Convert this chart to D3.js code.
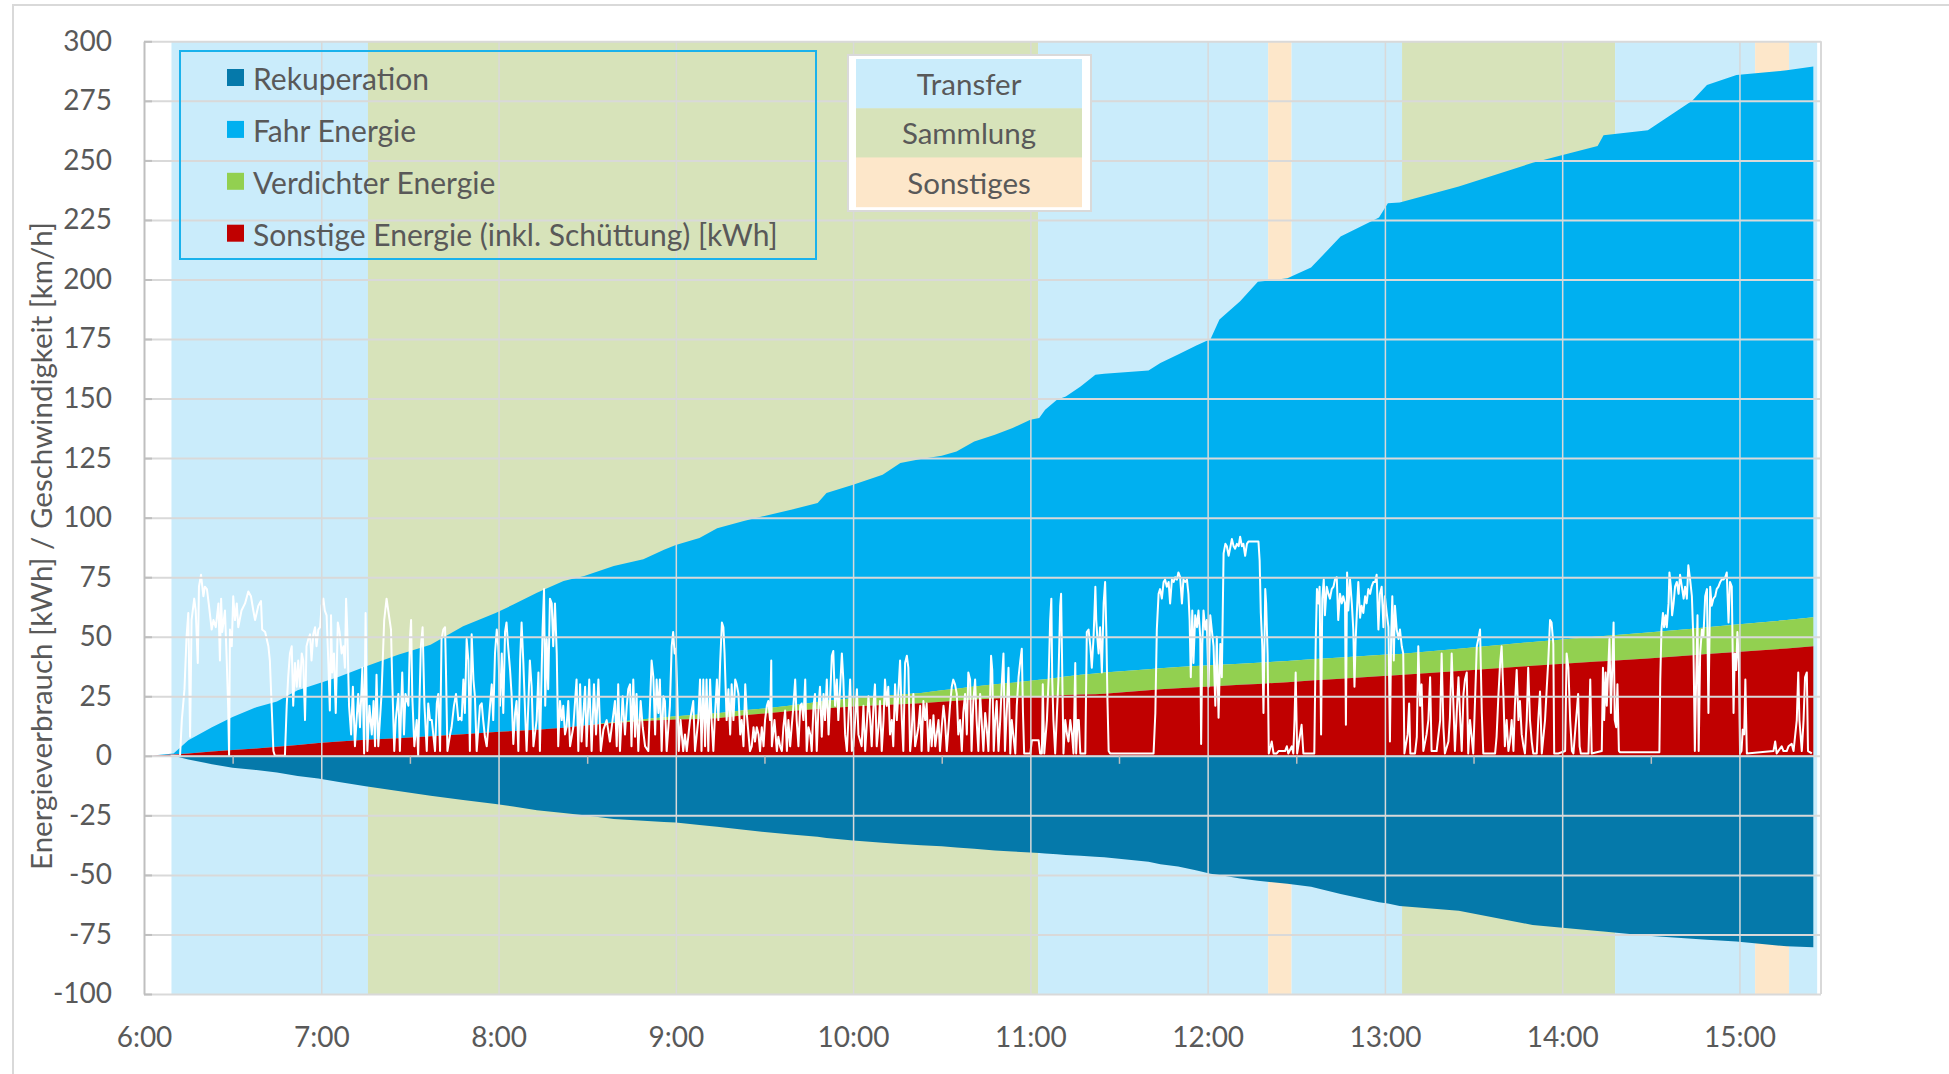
<!DOCTYPE html>
<html>
<head>
<meta charset="utf-8">
<script src="https://cdn.jsdelivr.net/npm/d3@7"></script>
<style>
  body { margin: 0; background: #fff; }
  svg text { font-family: Lato, "Open Sans", sans-serif; fill: #595959; }
</style>
</head>
<body>
<svg id="chart"></svg>
<script>
// time values are minutes after 6:00

const yTicks = [-100, -75, -50, -25, 0, 25, 50, 75, 100, 125, 150, 175, 200, 225, 250, 275, 300];
const hourTicks = [0, 60, 120, 180, 240, 300, 360, 420, 480, 540];
const hourLabels = ["6:00", "7:00", "8:00", "9:00", "10:00", "11:00", "12:00", "13:00", "14:00", "15:00"];

// operating phases (background bands)
const phaseStart = [9.3, 75.8, 302.6, 380.5, 388.4, 425.8, 497.9, 545.3, 556.8];
const phaseEnd = [75.8, 302.6, 380.5, 388.4, 425.8, 497.9, 545.3, 556.8, 566.3];
const phaseType = ["Transfer", "Sammlung", "Transfer", "Sonstiges", "Transfer", "Sammlung", "Transfer", "Sonstiges", "Transfer"];

// cumulative energy [kWh]
const energyTime = [2, 10, 15, 23, 30, 38, 45, 52, 59, 66,
  75, 86, 97, 108, 119, 125, 133, 142, 149, 159,
  169, 176, 180, 188, 194, 203, 210, 219, 228, 231,
  240, 250, 256, 263, 270, 275, 281, 288, 294, 300,
  303, 305, 309, 312, 317, 322, 325, 340, 344, 350,
  356, 361, 364, 371, 377, 387, 395, 405, 418, 421,
  425, 445, 470, 492, 494, 509, 524, 529, 539, 556, 565];
const sonstige = [0, 0.6, 1, 1.8, 2.4, 3.1, 3.8, 4.5, 5.4, 6,
  6.7, 7.4, 8.2, 9.1, 10, 10.4, 10.9, 11.8, 12.7, 13.8,
  14.6, 15, 15.2, 15.5, 15.8, 17, 17.8, 18.8, 19.7, 20,
  20.7, 21.3, 21.7, 22.1, 22.7, 23.1, 23.6, 24.1, 24.4, 24.8,
  25, 25.1, 25.3, 25.5, 25.7, 25.9, 26.1, 27.5, 27.9, 28.4,
  28.8, 29.1, 29.3, 29.8, 30.2, 30.9, 31.6, 32.4, 33.4, 33.6,
  33.9, 35.6, 37.8, 39.6, 39.7, 40.9, 42.2, 42.7, 43.6, 45.1, 46];
const verdichter = [0, 0, 0, 0, 0, 0, 0, 0, 0, 0,
  0, 0, 0, 0, 0, 0, 0, 0, 0, 0.3,
  0.8, 1.2, 1.4, 1.8, 2.1, 2.1, 2.1, 2.3, 2.9, 3.1,
  3.5, 3.8, 4, 4.3, 4.8, 5.1, 5.5, 5.9, 6.3, 6.7,
  6.9, 7.1, 7.5, 7.8, 8.3, 8.7, 8.9, 8.9, 8.9, 8.9,
  8.9, 8.9, 8.9, 8.9, 8.9, 8.9, 8.9, 8.9, 8.9, 8.9,
  8.9, 9.4, 10, 10.5, 10.6, 10.9, 11.2, 11.3, 11.5, 11.9, 12.2];
const fahr = [0, 0.4, 5.5, 10.2, 13.9, 17.3, 19, 23, 25, 27.2,
  30.8, 35, 38.4, 45.3, 50, 53.1, 57.6, 61.6, 62.8, 65.6,
  67.1, 70.3, 71.9, 74.2, 77.6, 79.5, 80.8, 82.2, 83.5, 87.2,
  89.6, 92.9, 97.2, 98.2, 98.5, 99.6, 102.9, 104.8, 106.9, 109.6,
  109.9, 113.1, 116.7, 117.6, 121.1, 125.4, 125.4, 125.4, 128.1, 131.2,
  134.5, 137, 145, 152.2, 159.9, 160.7, 164.5, 176.7, 183.7, 189.5,
  189.5, 194, 201.2, 205.9, 210.3, 210.9, 221.6, 227.6, 230.7, 230.8, 231.2];
const rekuperation = [0, 0, -1.5, -3.5, -5, -6, -7, -8.5, -9.5, -11,
  -12.8, -14.8, -16.8, -18.5, -20.2, -21.3, -22.8, -24, -25, -26.5,
  -27.3, -27.8, -28, -29, -29.8, -31, -32, -33, -34, -34.5,
  -35.5, -36.5, -37, -37.5, -38, -38.5, -39, -39.7, -40.2, -40.6,
  -40.8, -41, -41.3, -41.6, -42, -42.4, -42.6, -44.5, -45.5, -46.5,
  -48, -49.5, -50, -51.5, -52.5, -53.7, -55, -58, -61.5, -62,
  -63, -65, -71, -73.5, -73.8, -75.5, -76.8, -77.2, -78, -80, -80.4];

// vehicle speed [km/h], [minute, value]
const speed = [
  [9,0],[12.2,0],[12.8,15],[13.7,28],[14.4,50],[15.0,60],[15.6,8],[16.1,57],[17.0,66],[17.5,61],[18.2,39],[18.6,71],[19.3,76],[20.1,67],[20.6,71],[21.3,70],[22.0,63],[22.9,53],[23.5,57],[24.3,54],[25.2,64],[25.7,40],[26.1,66],[26.5,52],[27.4,61],[28.0,40],[28.5,20],[28.8,0],[29.1,53],[29.7,46],[30.2,67],[30.8,57],[31.4,64],[31.9,54],[33.0,61],[34.2,64],[35.3,69],[36.2,67],[37.0,61],[37.6,57],[38.7,63],[39.6,65],[40.0,53],[41.0,52],[42.1,46],[42.6,40],[43.2,21],[43.8,2],[44.3,0],[47.7,0],[48.3,21],[48.8,33],[49.4,43],[50.0,46],[50.5,21],[51.1,39],[51.7,29],[52.2,40],[52.8,29],[53.4,43],[53.9,40],[54.5,15],[55.0,46],[55.6,49],[56.2,51],[56.7,40],[57.3,51],[57.9,54],[58.4,46],[59.0,53],[59.6,54],[60.1,63],[60.7,66],[61.2,61],[61.8,59],[62.4,39],[62.9,19],[63.3,59],[63.7,35],[64.3,43],[64.9,18],[65.6,56],[66.2,52],[66.9,43],[67.5,46],[68.0,37],[68.4,66],[68.8,53],[69.4,21],[70.1,9],[70.7,29],[71.4,4],[72.5,26],[73.1,12],[73.9,37],[74.5,1],[75.0,60],[75.6,2],[76.3,21],[77.1,9],[77.7,23],[78.2,4],[78.7,34],[79.3,4],[80.4,26],[81.3,57],[82.1,66],[82.9,59],[83.6,53],[84.0,32],[84.7,2],[85.2,15],[86.1,26],[86.6,2],[87.4,35],[88.0,9],[88.5,26],[89.5,21],[90.0,49],[90.4,57],[90.8,25],[91.5,4],[92.3,15],[92.8,0],[93.7,46],[94.3,54],[94.9,22],[95.7,2],[96.2,22],
  [96.8,15],[97.4,15],[98.5,2],[99.1,22],[99.6,26],[100.2,2],[100.7,49],[101.3,53],[101.9,54],[102.2,36],[102.7,2],[103.6,9],[104.1,12],[104.9,21],[105.6,26],[106.4,15],[107.0,16],[107.5,15],[108.1,32],[108.6,18],[109.2,49],[109.8,40],[110.3,2],[110.9,51],[111.5,32],[112.0,25],[112.6,2],[113.7,21],[114.3,22],[114.8,15],[115.4,8],[116.0,4],[117.1,21],[117.7,30],[118.2,15],[118.8,43],[119.4,53],[119.9,46],[120.5,21],[121.1,43],[121.6,18],[122.2,52],[122.7,56],[123.3,45],[123.9,36],[124.4,26],[125.0,5],[125.6,18],[126.1,23],[126.7,2],[127.3,40],[127.8,56],[128.4,39],[129.0,18],[129.5,2],[130.1,22],[130.6,40],[131.2,29],[131.8,4],[132.3,9],[132.9,15],[133.5,35],[134.0,2],[134.9,53],[135.4,70],[135.8,21],[136.3,49],[136.8,28],[137.4,66],[138.0,64],[138.5,46],[139.1,64],[139.7,43],[140.2,4],[140.8,23],[141.4,15],[141.9,21],[142.5,9],[143.0,12],[143.6,23],[144.2,4],[145.3,12],[146.4,32],[147.0,2],[147.6,30],[148.1,6],[149.3,29],[149.8,4],[150.7,32],[151.5,2],[152.3,30],[153.0,9],[153.8,32],[154.6,2],[155.5,11],[156.6,15],[157.7,6],[158.6,15],[159.4,23],[160.0,4],[160.5,30],[161.1,2],[162.0,25],[162.8,9],[163.4,21],[163.9,28],[164.5,30],[165.0,4],[165.6,32],[166.2,8],[166.7,26],[167.3,2],[168.1,23],[168.8,12],[169.6,4],[170.7,2],[171.8,40],[172.4,33],[173.0,9],[173.5,32],[174.1,18],[174.6,32],[175.2,2],[175.8,25],[176.3,23],[176.9,2],[178.0,21],[178.6,46],[179.1,52],[179.6,43],[180.0,45],[180.5,26],[181.0,2],[181.6,15],[182.5,2],[183.1,9],[183.7,2],[184.8,15],[185.9,23],[186.5,2],[187.6,15],[188.2,32],[188.7,2],[189.3,32],[189.9,4],[190.4,32],[191.0,2],[191.6,32],[192.1,15],[192.7,2],
  [193.3,18],[193.9,32],[194.4,15],[195.0,39],[195.6,56],[196.1,54],[196.5,43],[197.2,15],[197.8,28],[198.4,9],[198.9,30],[199.5,15],[200.1,32],[200.6,30],[201.2,26],[201.8,9],[202.3,15],[202.9,4],[203.5,30],[204.0,18],[204.6,9],[205.1,2],[205.7,4],[206.3,12],[206.8,6],[207.4,12],[208.0,9],[208.5,2],[209.1,12],[209.7,4],[210.2,15],[210.8,21],[211.3,23],[211.9,15],[212.3,40],[212.5,4],[213.4,15],[214.2,2],[214.7,8],[215.3,4],[215.9,2],[216.4,12],[217.0,19],[217.6,2],[218.1,15],[218.7,4],[219.2,12],[219.8,21],[220.4,32],[220.9,15],[221.5,4],[222.1,21],[222.6,22],[223.2,15],[223.8,32],[224.3,2],[224.9,12],[225.5,9],[226.0,2],[226.6,21],[227.1,26],[227.7,2],[228.3,21],[228.8,29],[229.4,8],[230.0,26],[230.5,15],[231.1,32],[231.7,9],[232.2,23],[232.8,42],[233.3,44],[233.9,21],[234.5,32],[235.0,15],[235.6,28],[236.2,43],[236.7,32],[237.3,9],[237.9,2],[238.4,15],[239.0,32],[239.6,2],[240.1,4],[240.7,15],[241.3,28],[241.8,9],[242.9,4],[243.5,21],[244.1,2],[245.2,25],[245.8,15],[246.3,4],[246.9,21],[247.4,30],[248.0,4],[248.6,12],[249.1,23],[249.7,2],[250.3,15],[250.8,32],[251.4,21],[251.9,29],[252.5,9],[253.1,15],[253.6,4],[254.2,30],[254.8,15],[255.3,26],[255.9,40],[256.5,15],[257.0,2],[257.6,39],[258.2,42],[258.7,37],[259.3,2],[259.8,9],[260.4,26],[261.0,4],[262.1,12],[262.7,21],[263.2,2],[263.8,23],[264.4,15],[264.9,22],[265.5,2],[266.1,15],[266.6,4],[267.2,17],[267.8,4],[268.9,15],[269.4,2],[270.0,12],[270.6,21],[271.1,15],[271.7,2],[272.3,12],[272.8,21],[273.4,29],[273.9,32],[274.5,30],[275.1,26],[275.6,9],[276.2,15],[276.8,2],[277.3,18],[277.9,26],[278.5,9],[279.0,35],[279.6,32],[280.1,2],[280.7,23],[281.3,32],[281.8,15],[282.4,2],[283.0,26],[283.5,15],[284.1,2],[284.7,18],[285.2,12],[285.8,2],[286.4,26],[286.7,42],[287.1,36],[287.6,2],[288.1,15],[288.6,23],[289.2,2],
  [289.8,15],[290.4,32],[290.9,43],[291.4,2],[292.1,21],[292.6,37],[293.2,1],[293.7,15],[294.3,8],[294.9,1],[295.4,21],[296.0,33],[296.6,40],[297.1,45],[297.5,18],[297.9,1],[300.0,1],[300.5,6.5],[302.8,6.5],[303.3,1],[303.9,1],[304.2,30],[304.7,1],[305.6,15],[306.2,33],[306.7,57],[307.1,66],[307.4,32],[307.8,15],[308.4,1],[309.0,18],[309.5,32],[310.1,63],[310.4,68],[310.9,26],[311.2,1],[311.8,15],[312.4,9],[312.9,6],[313.5,15],[314.1,9],[314.6,1],[315.2,39],[315.5,1],[316.0,15],[316.4,15],[316.9,1],[318.6,1],[319.1,52],[319.7,53],[320.3,46],[320.8,37],[321.4,50],[322.0,71],[322.3,57],[322.7,49],[323.1,43],[323.6,54],[324.2,35],[324.8,64],[325.3,73],[325.7,53],[326.1,23],[326.5,2],[327.0,1],[341.7,1],[342.3,18],[342.8,53],[343.4,68],[343.9,70],[344.5,66],[345.1,73],[345.6,74],[346.2,71],[346.8,73],[347.3,64],[347.9,74],[348.5,73],[349.0,75],[349.6,74],[350.1,77],[350.7,75],[351.3,64],[351.8,74],[352.4,73],[353.0,74],[353.5,68],[353.9,57],[354.3,33],[354.8,61],[355.2,39],[355.8,59],[356.4,54],[356.9,61],[357.5,50],[357.8,5],[358.2,47],[358.6,61],[359.2,53],[359.7,57],[360.3,29],[360.9,59],[361.4,53],[362.0,46],[362.6,21],[363.1,50],[363.7,16],[364.3,47],[364.8,33],[365.4,85],[366.0,89],[366.5,88],[367.1,84],[367.6,87],[368.2,91],[368.8,88],[369.3,87],[369.9,89],[370.5,88],[371.0,92],[371.6,88],[372.1,89],[372.7,84],[373.3,89],[373.8,90],[377.2,90],[377.6,82],[378.0,60],[378.5,46],[378.9,18],[379.5,70],[379.8,64],[380.3,43],[380.7,1],[381.7,6],[382.3,1],[383.4,1],[384.0,2],[385.7,2],
  [386.2,2],[386.8,4],[387.3,1],[388.5,4],[389.0,1],[389.4,15],[389.8,35],[390.3,1],[391.8,13],[392.4,1],[396.1,1],[396.6,49],[397.0,70],[397.5,64],[397.9,71],[398.4,9],[398.8,66],[399.3,74],[399.7,59],[400.3,71],[400.9,68],[401.4,66],[402.0,70],[402.6,71],[403.1,74],[403.7,75],[404.2,57],[404.8,68],[405.4,64],[405.9,67],[406.5,64],[406.8,13],[407.2,77],[407.6,61],[408.2,74],[408.8,64],[409.3,53],[409.7,29],[410.1,49],[410.5,60],[411.0,73],[411.6,58],[412.1,63],[412.7,60],[413.3,67],[413.8,64],[414.4,70],[415.0,68],[415.5,71],[416.1,73],[416.7,73],[417.2,76],[417.8,53],[418.3,68],[418.9,71],[419.5,54],[420.0,67],[420.6,60],[421.2,54],[421.7,6],[422.1,49],[422.5,67],[423.0,40],[423.4,63],[424.0,53],[424.6,49],[425.1,53],[425.7,46],[426.2,43],[426.6,1],[427.7,9],[428.2,22],[428.6,1],[430.2,1],[430.8,8],[431.3,46],[431.9,21],[432.4,30],[433.0,2],[434.1,9],[434.7,15],[435.3,33],[435.8,2],[437.5,2],[438.7,15],[439.2,43],[439.8,12],[440.3,1],[441.5,6],[442.0,16],[442.6,43],[443.2,21],[443.7,2],[444.3,18],[444.9,33],[445.4,18],[446.0,2],[446.6,26],[447.1,32],[447.7,35],[448.2,1],[448.8,15],[449.9,1],[450.5,23],[451.1,46],[451.6,49],[452.2,53],[452.8,18],[453.3,1],[457.3,1],[457.8,8],[458.4,25],[459.0,39],[459.5,46],[460.1,26],[460.6,4],[461.2,15],[461.8,2],[462.3,6],[462.9,15],[463.5,2],[464.0,21],[464.6,36],[465.2,15],[465.7,23],[466.3,9],[466.9,4],[467.4,1],[468.0,15],[468.5,37],[469.1,15],[469.7,6],[470.2,1],[471.4,1],[471.9,15],[472.5,27],[473.1,1],[474.2,15],[474.8,29],[475.3,40],[475.9,57],[476.4,56],[477.0,47],[477.3,1],[478.7,1],[481.0,2],[481.5,43],[482.1,37],
  [482.7,15],[483.3,2],[483.8,1],[485.4,26],[485.9,4],[486.3,1],[488.9,1],[489.5,32],[490.0,1],[493.4,2],[493.8,37],[494.2,15],[494.7,35],[495.1,21],[495.6,37],[496.0,49],[496.5,18],[496.9,35],[497.4,56],[497.8,15],[498.3,12],[498.7,30],[499.2,2],[499.6,1.5],[512.9,1.5],[513.2,32],[513.6,53],[514.1,60],[514.5,54],[515.0,59],[515.4,54],[516.0,64],[516.3,77],[516.8,71],[517.2,59],[517.7,64],[518.2,71],[518.8,73],[519.4,68],[519.9,76],[520.5,71],[521.1,66],[521.6,71],[522.2,66],[522.7,80],[523.3,74],[523.9,67],[524.4,49],[524.9,2],[525.3,29],[525.8,59],[526.2,2],[526.7,43],[527.3,53],[527.8,50],[528.4,67],[529.0,70],[529.5,18],[530.1,71],[530.6,63],[531.2,66],[531.8,67],[532.3,70],[532.9,71],[533.5,73],[534.0,74],[534.6,74],[535.2,75],[535.7,77],[536.3,56],[536.8,73],[537.4,71],[538.0,18],[538.4,43],[538.9,36],[539.3,52],[539.8,39],[540.2,1],[540.7,2],[541.1,11],[541.6,9],[542.0,32],[542.5,1],[551.5,2],[552.1,6],[552.6,1],[554.3,4],[554.9,2],[556.0,2],[556.6,4],[557.7,5],[558.3,2],[559.4,15],[559.9,35],[560.3,15],[561.1,2],[561.7,15],[562.2,33],[562.8,35],[563.2,2],[564.5,1]
];

const seriesLabels = ["Rekuperation", "Fahr Energie", "Verdichter Energie", "Sonstige Energie (inkl. Schüttung) [kWh]"];
const seriesColors = ["#0579AA", "#00B0F0", "#92D050", "#C00000"];
const phaseLabels = ["Transfer", "Sammlung", "Sonstiges"];
const phaseColors = { Transfer: "#CAECFB", Sammlung: "#D7E3BA", Sonstiges: "#FDE7CA" };

const W = 1949, H = 1074;
const plot = { left: 144, right: 1821, top: 41.3, bottom: 994 };

const svg = d3.select("#chart").attr("width", W).attr("height", H);

// outer chart border (top/left visible)
svg.append("path")
  .attr("d", `M13,${H} L13,5 L${W},5`)
  .attr("fill", "none").attr("stroke", "#d9d9d9").attr("stroke-width", 2);

const x = d3.scaleLinear().domain([0, 567.6]).range([plot.left, plot.right]);
const y = d3.scaleLinear().domain([-100, 300]).range([plot.bottom, plot.top]);

svg.append("clipPath").attr("id", "plotclip")
  .append("rect")
  .attr("x", plot.left).attr("y", plot.top - 3)
  .attr("width", plot.right - plot.left).attr("height", plot.bottom - plot.top + 3);

const g = svg.append("g").attr("clip-path", "url(#plotclip)");

// phase bands
g.selectAll(".band")
  .data(phaseType.map((p, i) => ({ type: p, s: phaseStart[i], e: phaseEnd[i] })))
  .enter().append("rect")
  .attr("class", "band")
  .attr("x", d => x(d.s))
  .attr("width", d => x(d.e) - x(d.s))
  .attr("y", plot.top)
  .attr("height", plot.bottom - plot.top)
  .attr("fill", d => phaseColors[d.type]);

// stacked energy areas
const rows = energyTime.map((t, i) => ({
  t: t, sonstige: sonstige[i], verdichter: verdichter[i], fahr: fahr[i], rek: rekuperation[i]
}));
const stack = d3.stack().keys(["sonstige", "verdichter", "fahr"]);
const stacked = stack(rows);
const stackColors = { sonstige: seriesColors[3], verdichter: seriesColors[2], fahr: seriesColors[1] };

const area = d3.area()
  .x(d => x(d.data.t))
  .y0(d => y(d[0]))
  .y1(d => y(d[1]));

// draw top layer first so lower layers sit on top of seams
g.selectAll(".layer")
  .data(stacked.slice().reverse())
  .enter().append("path")
  .attr("class", "layer")
  .attr("d", area)
  .attr("fill", d => stackColors[d.key]);

g.append("path")
  .datum(rows.filter(d => d.t >= 10))
  .attr("d", d3.area().x(d => x(d.t)).y0(y(0)).y1(d => y(d.rek)))
  .attr("fill", seriesColors[0]);

// gridlines
const gridY = svg.append("g")
  .attr("transform", `translate(${plot.left},0)`)
  .call(d3.axisLeft(y).tickValues(yTicks).tickSize(-(plot.right - plot.left)).tickFormat(""));
gridY.select(".domain").remove();
gridY.selectAll("line").attr("stroke", "#d9d9d9").attr("stroke-width", 2);

const gridX = svg.append("g")
  .attr("transform", `translate(0,${plot.bottom})`)
  .call(d3.axisBottom(x).tickValues(hourTicks.slice(1)).tickSize(-(plot.bottom - plot.top)).tickFormat(""));
gridX.select(".domain").remove();
gridX.selectAll("line").attr("stroke", "#d9d9d9").attr("stroke-width", 1.5);

// right border of plot area
svg.append("line")
  .attr("x1", plot.right).attr("x2", plot.right)
  .attr("y1", plot.top).attr("y2", plot.bottom)
  .attr("stroke", "#d9d9d9").attr("stroke-width", 2);

// half-hour tick marks on the zero line
const zeroAxis = svg.append("g")
  .attr("transform", `translate(0,${y(0)})`)
  .call(d3.axisBottom(x).tickValues(hourTicks.map(h => h + 30).filter(m => m < 567)).tickSize(8).tickFormat(""));
zeroAxis.select(".domain").remove();
zeroAxis.selectAll("line").attr("stroke", "#bfbfbf").attr("stroke-width", 1.5);

// vertical axis line with inner ticks
const yAxisLine = svg.append("g")
  .attr("transform", `translate(${plot.left},0)`)
  .call(d3.axisLeft(y).tickValues(yTicks).tickSizeInner(-8).tickSizeOuter(0).tickFormat(""));
yAxisLine.selectAll("line, path").attr("stroke", "#bfbfbf").attr("stroke-width", 2);

// speed line
g.append("path")
  .datum(speed)
  .attr("d", d3.line().x(d => x(d[0])).y(d => y(d[1])))
  .attr("fill", "none")
  .attr("stroke", "#ffffff")
  .attr("stroke-width", 2)
  .attr("stroke-linejoin", "round");

// tick labels
const yLabels = svg.append("g")
  .attr("transform", `translate(${plot.left},0)`)
  .call(d3.axisLeft(y).tickValues(yTicks).tickSize(0).tickPadding(32).tickFormat(d => String(d)));
yLabels.select(".domain").remove();
yLabels.selectAll("text").style("font-size", "28px").attr("fill", "#595959");

const xLabels = svg.append("g")
  .attr("transform", `translate(0,${plot.bottom})`)
  .call(d3.axisBottom(x).tickValues(hourTicks).tickSize(0).tickPadding(33)
    .tickFormat((d, i) => hourLabels[i]));
xLabels.select(".domain").remove();
xLabels.selectAll("text").style("font-size", "28px").attr("fill", "#595959");

// axis title
svg.append("text")
  .attr("transform", "translate(40,546) rotate(-90)")
  .attr("text-anchor", "middle")
  .attr("dominant-baseline", "central")
  .style("font-size", "29.5px")
  .text("Energieverbrauch [kWh] / Geschwindigkeit [km/h]");

// series legend
const leg = svg.append("g");
leg.append("rect")
  .attr("x", 180).attr("y", 51).attr("width", 636).attr("height", 208)
  .attr("fill", "none").attr("stroke", "#1AB2EC").attr("stroke-width", 2);
const legItems = leg.selectAll(".li")
  .data(seriesLabels)
  .enter().append("g")
  .attr("transform", (d, i) => `translate(227,${78 + i * 51.9})`);
legItems.append("rect")
  .attr("x", 0).attr("y", -9).attr("width", 17).attr("height", 17)
  .attr("fill", (d, i) => seriesColors[i]);
legItems.append("text")
  .attr("x", 26).attr("y", 0)
  .attr("dominant-baseline", "central")
  .style("font-size", "30px")
  .text(d => d);

// phase legend
const pl = svg.append("g");
pl.append("rect")
  .attr("x", 848).attr("y", 55).attr("width", 243).attr("height", 156)
  .attr("fill", "#fff").attr("stroke", "#d9d9d9").attr("stroke-width", 2);
const cellH = (206.7 - 59) / 3;
const cells = pl.selectAll(".pc")
  .data(phaseLabels)
  .enter().append("g")
  .attr("transform", (d, i) => `translate(856,${59 + i * cellH})`);
cells.append("rect")
  .attr("width", 226).attr("height", cellH + 0.5)
  .attr("fill", d => phaseColors[d]);
cells.append("text")
  .attr("x", 113).attr("y", cellH / 2)
  .attr("text-anchor", "middle")
  .attr("dominant-baseline", "central")
  .style("font-size", "29.5px")
  .text(d => d);
</script>
</body>
</html>
